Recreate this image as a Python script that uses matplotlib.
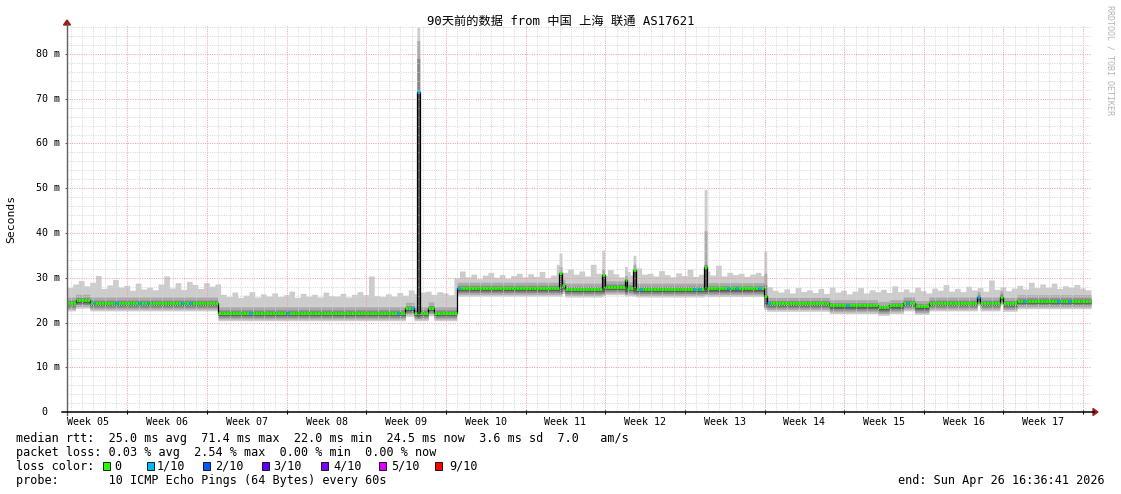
import numpy as np
import matplotlib.pyplot as plt
from matplotlib.lines import Line2D
from matplotlib.patches import Rectangle, Polygon

W, H = 1121, 494

# median rtt (ms) as runs over quarter days, 90 days -> 360 samples
med_level = [24.4, 25.0, 24.4, 22.2, 23.2, 22.2, 71.4, 22.2, 23.3, 22.2,
             27.7, 31.0, 28.3, 27.5, 30.6, 28.0, 29.5, 27.8, 31.7, 27.5,
             32.5, 27.6, 26.0, 24.3, 23.8, 23.4, 23.8, 24.4, 23.6, 24.4,
             25.6, 24.4, 25.8, 24.3, 24.9]
med_len = [3, 5, 45, 66, 3, 1, 1, 3, 2, 8,
           36, 1, 1, 13, 1, 7, 1, 2, 1, 24,
           1, 20, 1, 22, 17, 4, 5, 4, 5, 17,
           1, 7, 1, 5, 26]

# top of the smoke (slowest ping, ms) per half day
smoke_max = [27.8, 28.6, 29.4, 28.2, 29.0, 30.5, 27.6, 28.4, 29.6, 27.9,
             28.3, 27.2, 28.8, 27.5, 27.9, 27.3, 28.6, 30.4, 27.7, 28.9,
             27.4, 29.2, 28.5, 27.6, 28.9, 28.1, 28.6,
             26.3, 25.8, 26.8, 25.6, 26.1, 26.9, 25.7, 26.4, 25.9, 26.6,
             25.8, 26.2, 27.0, 25.6, 26.5, 25.9, 26.3, 25.7, 26.8, 26.0,
             25.9, 26.5, 25.7, 26.3, 26.9, 26.2, 30.4, 26.0, 25.8, 26.4,
             25.9, 26.7, 26.1, 27.3, 26.5, 26.8, 27.0, 26.3, 26.9, 26.6, 26.2,
             30.0, 31.5, 30.2, 30.8, 29.8, 30.6, 31.2, 30.1, 30.7, 29.9,
             30.5, 31.0, 30.2, 30.9, 30.3, 31.4, 30.0, 30.6, 33.0, 31.2,
             32.0, 30.8, 31.5, 30.4, 33.0, 31.0, 30.5, 31.8, 30.9, 30.2,
             31.4, 30.6, 32.2, 30.8, 31.0, 30.4, 31.6, 30.7, 30.2, 31.1,
             30.5, 31.9, 30.3, 30.8, 31.5, 30.6, 32.8, 30.4, 31.2, 30.7,
             31.0, 30.3, 30.8, 31.2, 30.5,
             28.0, 27.2, 26.8, 27.5, 26.6, 27.8, 26.9, 27.3, 26.7, 27.6,
             26.5, 27.9, 26.8, 27.2, 26.4, 27.0, 27.8, 26.6, 27.3, 26.9,
             27.4, 26.7, 28.2, 26.9, 27.5, 26.8, 27.9, 27.1, 26.6, 27.7,
             27.2, 28.5, 27.0, 27.6, 26.9, 28.1, 27.3, 27.8, 27.0, 29.5,
             27.4, 28.0, 27.1, 27.7, 28.3, 27.5, 29.0, 27.8, 28.6, 27.9,
             28.8, 27.6, 28.2, 27.9, 28.5, 27.7, 27.3]

# spread of the smoke bands around the median (ms): light, mid, dark, darkest
band_below = [1.8, 1.4, 1.0, 0.6]
band_above = [0.0, 1.3, 0.6, 0.2]
band_colors = ['#cccccc', '#aaaaaa', '#888888', '#5a5a5a']

# single-sample spikes: sample index, max, mid grey top, dark grey top, floor
spike_idx = [123, 173, 188, 196, 199, 224, 245]
spike_top = [86.0, 35.5, 36.2, 32.5, 35.0, 49.7, 36.0]
spike_mid = [83.0, 32.5, 32.0, 30.5, 33.0, 40.5, 31.0]
spike_dark = [79.0, 31.0, 30.6, 29.5, 31.7, 33.0, 28.5]
spike_floor = [21.0, 26.5, 26.5, 26.5, 26.5, 26.5, 23.5]

# samples with 1/10 packet loss
loss1_idx = [9, 17, 25, 28, 40, 43, 64, 77, 116, 121, 123, 137, 201, 220,
             222, 232, 235, 243, 246, 274, 295, 320, 336, 348, 352]

loss_labels = ['0', '1/10', '2/10', '3/10', '4/10', '5/10', '9/10']
loss_colors = ['#26ff00', '#00b8ff', '#0059ff', '#5e00ff', '#7e00ff', '#dd00ff', '#ff0000']
loss_box_x = [103, 147, 203, 262, 321, 379, 435]
loss_text_x = [114, 157, 215, 273, 333, 391, 449]

y_ticks = [0, 10, 20, 30, 40, 50, 60, 70, 80]
y_tick_labels = [' 0', '10 m', '20 m', '30 m', '40 m', '50 m', '60 m', '70 m', '80 m']
week_labels = ['Week 05', 'Week 06', 'Week 07', 'Week 08', 'Week 09', 'Week 10', 'Week 11',
               'Week 12', 'Week 13', 'Week 14', 'Week 15', 'Week 16', 'Week 17']
last_sunday = 90 - 16.611 / 24   # end is Sun 16:36:41, x axis in days

legend_lines = [
    'median rtt:  25.0 ms avg  71.4 ms max  22.0 ms min  24.5 ms now  3.6 ms sd  7.0   am/s',
    'packet loss: 0.03 % avg  2.54 % max  0.00 % min  0.00 % now',
]
probe_line = 'probe:       10 ICMP Echo Pings (64 Bytes) every 60s'
end_line = 'end: Sun Apr 26 16:36:41 2026'

mono = 'DejaVu Sans Mono'


def fx(x):
    return x / W


def fy(y):
    return 1 - y / H


def step(a):
    return np.append(a, a[-1])


med = np.repeat(med_level, med_len).astype(float)
top = np.repeat(smoke_max, 2).astype(float)
n = len(med)
xs = np.arange(n + 1) * 90.0 / n

lows, highs = [], []
for i in range(4):
    lo = med - band_below[i]
    hi = top.copy() if i == 0 else med + band_above[i]
    lows.append(lo)
    highs.append(hi)
for k, q in enumerate(spike_idx):
    f = spike_floor[k]
    lows[0][q], highs[0][q] = f - 0.6, spike_top[k]
    lows[1][q], highs[1][q] = f - 0.2, spike_mid[k]
    lows[2][q], highs[2][q] = f, spike_dark[k]
    lows[3][q], highs[3][q] = f + 0.4, med[q] + 0.2

fig = plt.figure(figsize=(W / 100, H / 100), dpi=100)
fig.patch.set_facecolor('white')
top_px = 25.8
ax = fig.add_axes([fx(67), fy(412), (1091 - 67) / W, (412 - top_px) / H])
ax.set_xlim(0, 90)
ax.set_ylim(0, (412 - top_px) / 4.475)
ax.set_axis_off()

# smoke
for i in range(4):
    ax.fill_between(xs, step(lows[i]), step(highs[i]), step='post',
                    color=band_colors[i], lw=0, zorder=1 + i * 0.1)

# grid
dots = (0, (1, 1.4))
k = 0
while last_sunday - k > 0:
    d = last_sunday - k
    major = k % 7 == 0
    ax.axvline(d, color='#f09a9a' if major else '#d4d4d4', lw=0.7, ls=dots, zorder=2)
    k += 1
for v in range(2, 87, 2):
    major = v % 10 == 0
    ax.axhline(v, color='#f09a9a' if major else '#d4d4d4', lw=0.7, ls=dots, zorder=2)

# median line coloured by loss
cols = [loss_colors[0]] * n
for q in loss1_idx:
    cols[q] = loss_colors[1]
ax.step(xs, step(med), where='post', color='black', lw=0.9, zorder=4)
ax.hlines(med, xs[:-1], xs[1:], colors=cols, lw=1.9, zorder=5)

# axes lines and arrows
fig.add_artist(Line2D([fx(67), fx(67)], [fy(415), fy(24)], color='#606060', lw=1.0))
fig.add_artist(Line2D([fx(62), fx(1094)], [fy(412), fy(412)], color='black', lw=1.1))
fig.add_artist(Polygon([(fx(1093), fy(408.5)), (fx(1098), fy(412)), (fx(1093), fy(415.5))],
                       closed=True, color='#9a1f1f'))
fig.add_artist(Polygon([(fx(63.5), fy(25)), (fx(67), fy(20)), (fx(70.5), fy(25))],
                       closed=True, color='#9a1f1f'))

# tick marks
k = 0
while last_sunday - k * 7 > 0:
    ax.vlines(last_sunday - k * 7, -0.5, 0.5, color='black', lw=0.8, clip_on=False, zorder=6)
    k += 1
ax.hlines(y_ticks[1:], -0.2, 0.0, color='#606060', lw=0.8, clip_on=False)

# tick labels
ytrans = ax.get_yaxis_transform().__class__(fig.transFigure, ax.transData)
for v, lab in zip(y_ticks, y_tick_labels):
    ax.text(fx(36), v, lab, transform=ytrans, ha='left', va='center', fontsize=7.2, family=mono)
for w, lab in enumerate(week_labels):
    d = last_sunday - (len(week_labels) - 1 - w) * 7 - 7 + 3.5
    fig.text(fx(67 + d * 1024 / 90), fy(421.5), lab, ha='center', va='center',
             fontsize=7.2, family=mono)

# titles
fig.text(fx(560.5), fy(21.5), '90天前的数据 from 中国 上海 联通 AS17621', ha='center', va='center',
         fontsize=8.8, family=[mono, 'Noto Sans CJK SC'])
fig.text(fx(11), fy(219), 'Seconds', rotation=90, ha='center', va='center',
         fontsize=8.2, family=mono)
fig.text(fx(1110), fy(5), 'RRDTOOL / TOBI OETIKER', rotation=270, ha='center', va='top',
         fontsize=6, family=mono, color='#b4b4b4')

# legend
leg = 8.5
fig.text(fx(16), fy(438), legend_lines[0], fontsize=leg, family=mono, va='center')
fig.text(fx(16), fy(452), legend_lines[1], fontsize=leg, family=mono, va='center')
fig.text(fx(16), fy(466), 'loss color:', fontsize=leg, family=mono, va='center')
for bx, tx, c, s in zip(loss_box_x, loss_text_x, loss_colors, loss_labels):
    fig.add_artist(Rectangle((fx(bx), fy(470)), 7 / W, 8 / H, facecolor=c,
                             edgecolor='black', lw=0.6))
    fig.text(fx(tx), fy(466), s, fontsize=leg, family=mono, va='center')
fig.text(fx(16), fy(480), probe_line, fontsize=leg, family=mono, va='center')
fig.text(fx(1105), fy(480), end_line, fontsize=leg, family=mono, va='center', ha='right')

fig.savefig('out.png', dpi=100)
